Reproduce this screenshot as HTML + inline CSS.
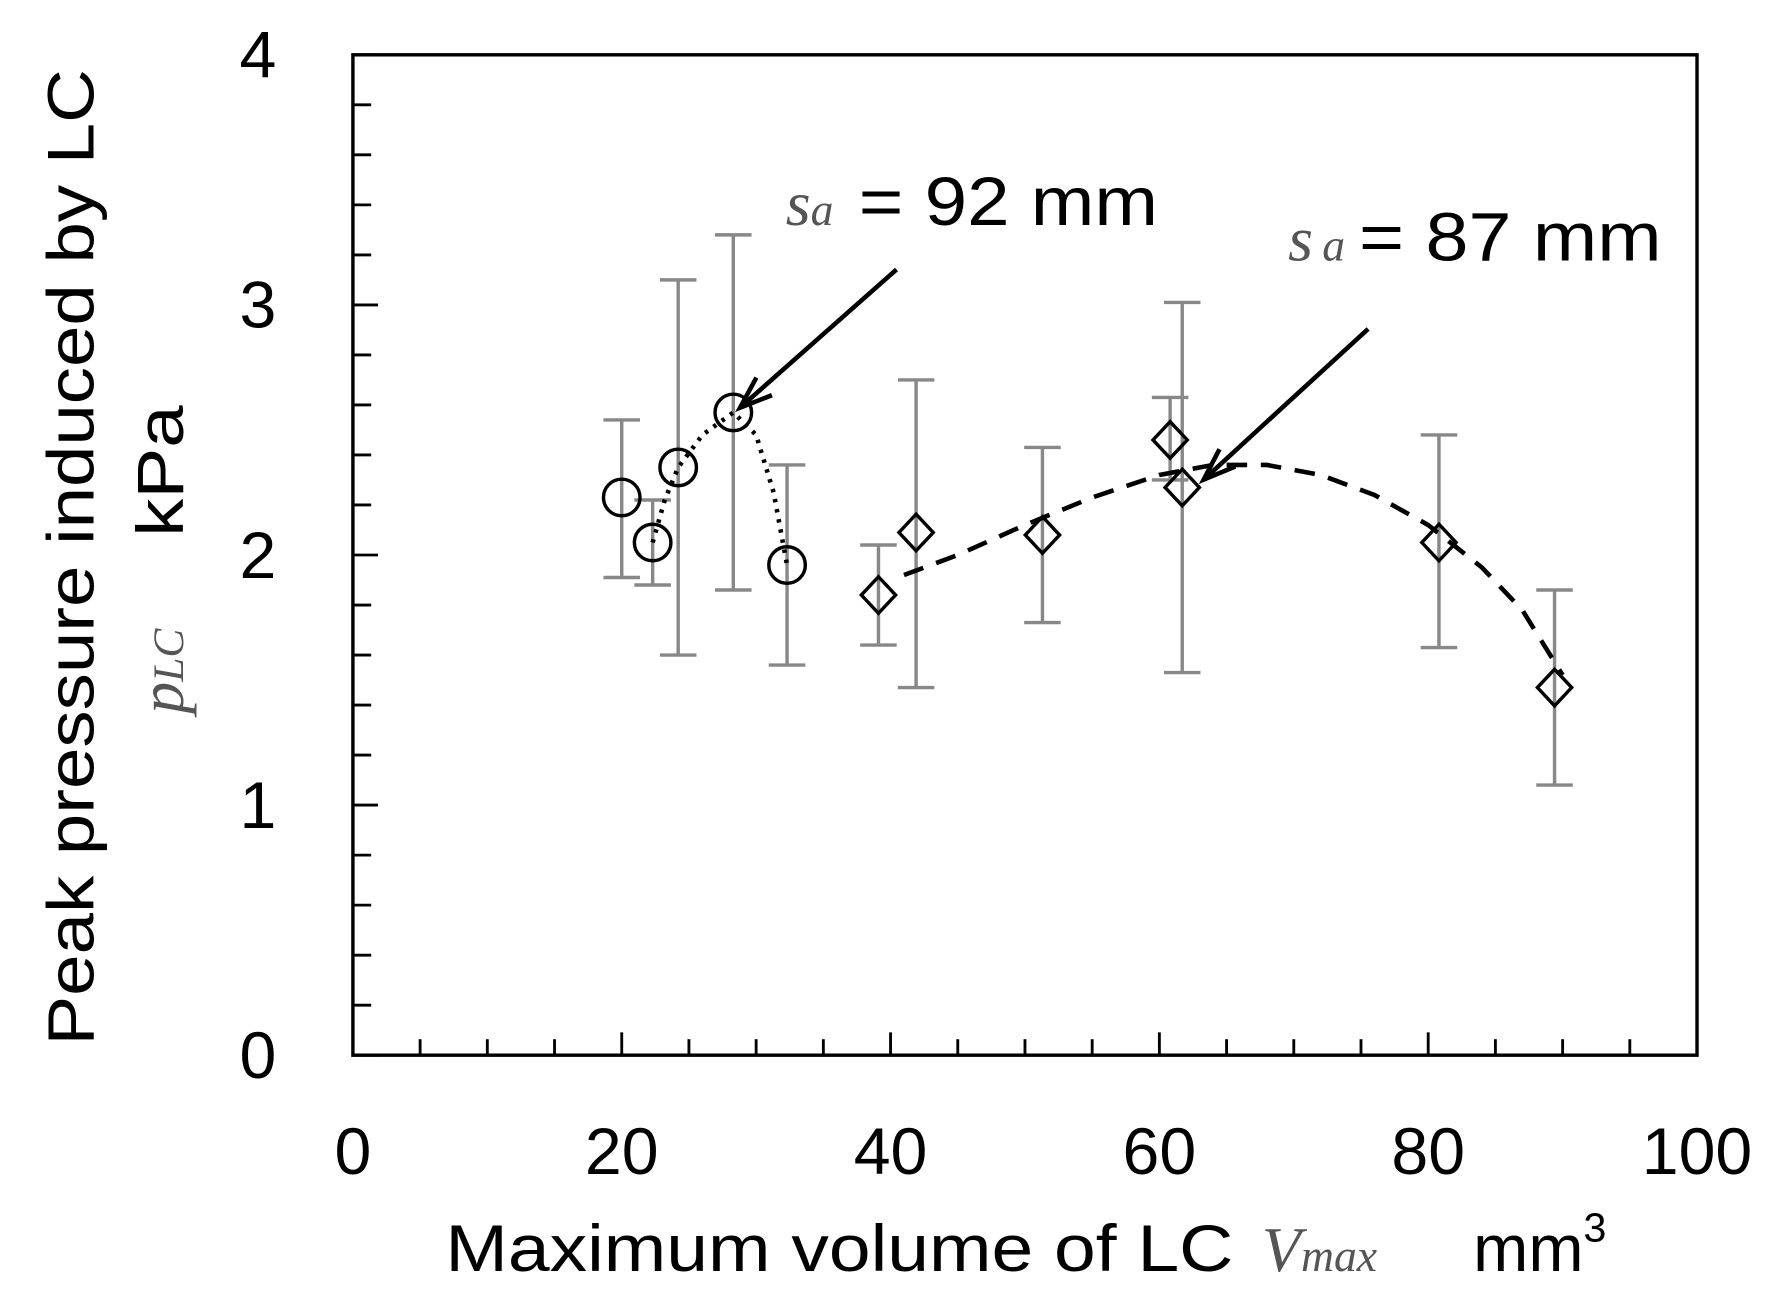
<!DOCTYPE html>
<html><head><meta charset="utf-8"><style>
html,body{margin:0;padding:0;background:#fff}
svg{display:block}
text{font-family:"Liberation Sans",sans-serif;fill:#000}
.it{font-family:"Liberation Serif",serif;font-style:italic;fill:#555}
</style></head><body>
<svg id="chart" width="1777" height="1303" viewBox="0 0 1556 1141" xmlns="http://www.w3.org/2000/svg">
<g id="axes"></g>
<g id="marks"></g>
<text class="it" x="688" y="197" font-size="56">s<tspan font-size="40">a</tspan></text>
<text x="752" y="197" font-size="60" textLength="262" lengthAdjust="spacingAndGlyphs">= 92 mm</text>
<text class="it" x="1128" y="228" font-size="56">s<tspan font-size="40" dx="8">a</tspan></text>
<text x="1190" y="228" font-size="60" textLength="265" lengthAdjust="spacingAndGlyphs">= 87 mm</text>
<text x="390" y="1113" font-size="58" textLength="690" lengthAdjust="spacingAndGlyphs">Maximum volume of LC</text>
<text class="it" x="1105" y="1113" font-size="56">V<tspan font-size="40">max</tspan></text>
<text x="1290" y="1113" font-size="58">mm<tspan font-size="36" dy="-26">3</tspan></text>
<text transform="translate(82,488) rotate(-90)" text-anchor="middle" font-size="58" textLength="855" lengthAdjust="spacingAndGlyphs">Peak pressure induced by LC</text>
<text class="it" transform="translate(160,625) rotate(-90)" font-size="56">p<tspan font-size="38">LC</tspan></text>
<text transform="translate(160,470) rotate(-90)" font-size="58" textLength="115" lengthAdjust="spacingAndGlyphs">kPa</text>
</svg>
<script>
const xTicks=[0,20,40,60,80,100];
const yTicks=[0,1,2,3,4];
const circX=[20.0,22.3,24.2,28.3,32.3];
const circY=[2.23,2.05,2.35,2.57,1.96];
const circHi=[2.54,2.22,3.10,3.28,2.36];
const circLo=[1.91,1.88,1.60,1.86,1.56];
const diaX=[39.1,41.9,51.3,60.8,61.7,80.8,89.4];
const diaY=[1.84,2.09,2.08,2.46,2.27,2.05,1.47];
const diaHi=[2.04,2.70,2.43,2.63,3.01,2.48,1.86];
const diaLo=[1.64,1.47,1.73,2.30,1.53,1.63,1.08];
const fitX=[41,45,50,55,60,64,68,72,76,80,84,87,90];
const fitY=[1.92,2.0,2.12,2.23,2.32,2.36,2.36,2.32,2.24,2.12,1.95,1.78,1.52];
const dotX=[22.3,23.2,24.2,26,28.3,30,31.3,32.3];
const dotY=[2.05,2.22,2.35,2.48,2.57,2.48,2.25,1.96];

const L=309,R=1486,T=48,B=924;
const sx=v=>L+(v/100)*(R-L);
const sy=v=>B-(v/4)*(B-T);
const NS="http://www.w3.org/2000/svg";
const axes=document.getElementById('axes'),marks=document.getElementById('marks');
function mk(tag,attrs,parent){const e=document.createElementNS(NS,tag);for(const k in attrs)e.setAttribute(k,attrs[k]);parent.appendChild(e);return e;}

let fr=mk('rect',{x:L,y:T,width:R-L,height:B-T,fill:'none',stroke:'#000','stroke-width':3},axes);


for(let v=0;v<=4.001;v+=0.2){
  const major=Math.abs(v-Math.round(v))<1e-6;
  const t=mk('line',{x1:L,x2:L+(major?22:16),y1:sy(v),y2:sy(v),stroke:'#000','stroke-width':2.5},axes);
  
  
}
for(let v=5;v<100;v+=5){
  const t=mk('line',{x1:sx(v),x2:sx(v),y1:B,y2:B-(v%20===0?20:14),stroke:'#000','stroke-width':2.5},axes);
  
  
}
yTicks.forEach(v=>{const t=mk('text',{x:242,y:sy(v)+20,'text-anchor':'end','font-size':58},axes);t.textContent=v;

});
xTicks.forEach(v=>{const t=mk('text',{x:sx(v),y:1028,'text-anchor':'middle','font-size':58},axes);t.textContent=v;

});

function ebar(x,hi,lo){
  const g=mk('g',{stroke:'#888','stroke-width':3,fill:'none'},marks);
  
  
  mk('line',{x1:sx(x),x2:sx(x),y1:sy(hi),y2:sy(lo)},g);
  mk('line',{x1:sx(x)-16,x2:sx(x)+16,y1:sy(hi),y2:sy(hi)},g);
  mk('line',{x1:sx(x)-16,x2:sx(x)+16,y1:sy(lo),y2:sy(lo)},g);
}
circX.forEach((x,i)=>ebar(x,circHi[i],circLo[i]));
diaX.forEach((x,i)=>ebar(x,diaHi[i],diaLo[i]));

let fit=mk('polyline',{points:fitX.map((x,i)=>sx(x)+','+sy(fitY[i])).join(' '),fill:'none',stroke:'#000','stroke-width':4,'stroke-dasharray':'18 12'},marks);


let dot=mk('polyline',{points:dotX.map((x,i)=>sx(x)+','+sy(dotY[i])).join(' '),fill:'none',stroke:'#000','stroke-width':4,'stroke-dasharray':'3 6'},marks);



circX.forEach((x,i)=>{const c=mk('circle',{cx:sx(x),cy:sy(circY[i]),r:16,fill:'none',stroke:'#000','stroke-width':3},marks);

});
diaX.forEach((x,i)=>{const X=sx(x),Y=sy(diaY[i]);const d=mk('polygon',{points:`${X},${Y-16} ${X+15},${Y} ${X},${Y+16} ${X-15},${Y}`,fill:'none',stroke:'#000','stroke-width':3},marks);

});

function arrow(x1,y1,x2,y2,name){
  const g=mk('g',{stroke:'#000','stroke-width':4,fill:'none'},marks);
  
  
  mk('line',{x1,y1,x2,y2},g);
  const a=Math.atan2(y2-y1,x2-x1),h=30,s=0.35;
  mk('polyline',{points:`${x2-h*Math.cos(a-s)},${y2-h*Math.sin(a-s)} ${x2},${y2} ${x2-h*Math.cos(a+s)},${y2-h*Math.sin(a+s)}`},g);
}
arrow(785,236,648,357,'arrow-92');
arrow(1198,288,1054,420,'arrow-87');
</script>
</body></html>
